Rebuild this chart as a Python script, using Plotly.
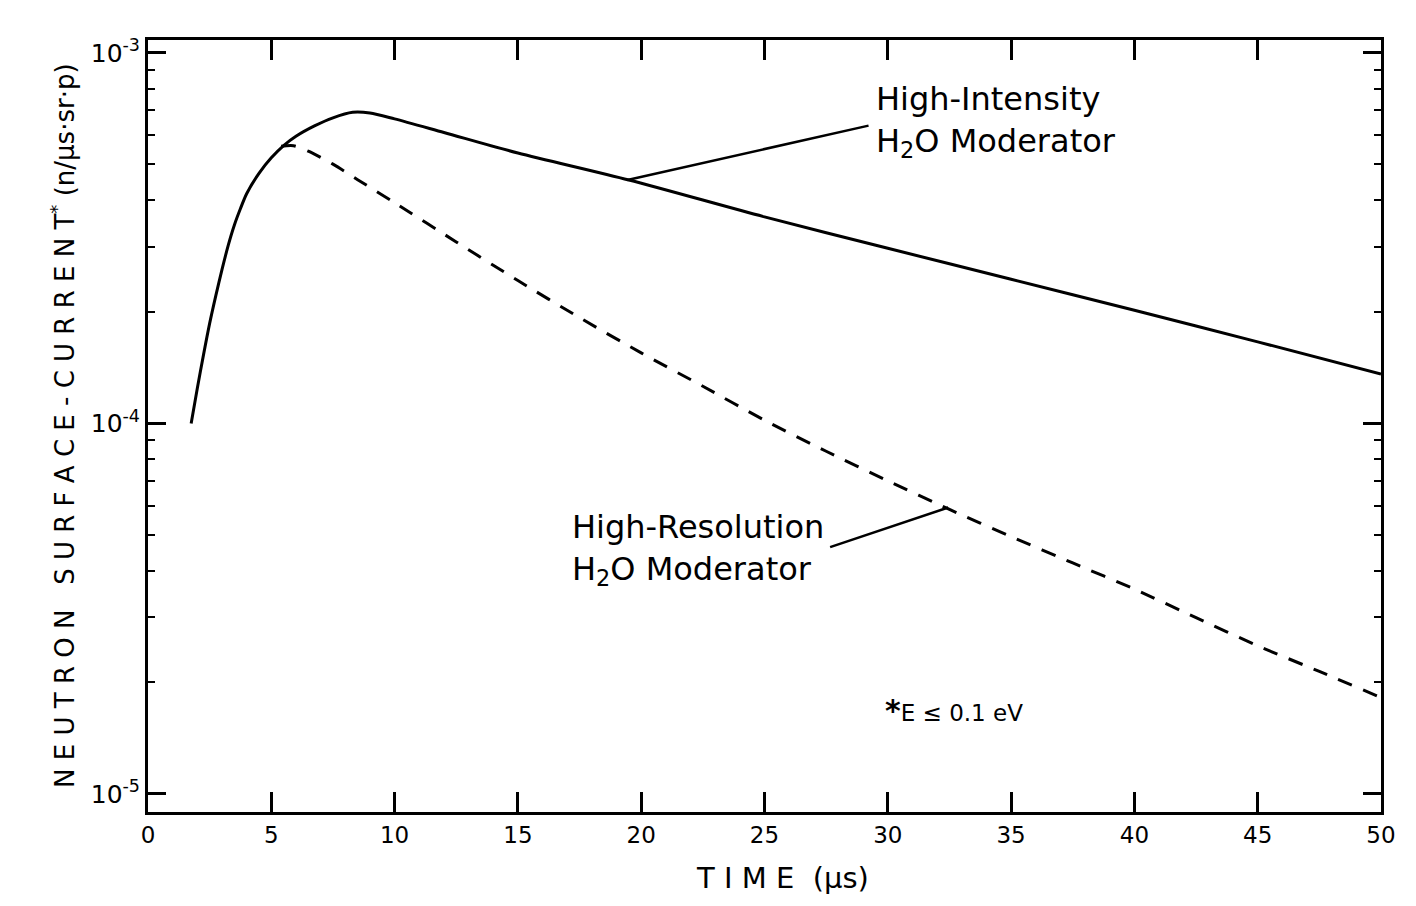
import numpy as np
import plotly.graph_objects as go

# ---- data ----
t_intensity = [1.75, 2.0, 2.25, 2.5, 2.75, 3.0, 3.25, 3.5, 3.75, 4.0, 4.5, 5.0, 5.5, 6.0, 6.75,
               7.5, 8.3, 9.0, 10.0, 12.0, 15.0, 19.5, 25.0, 30.0, 35.0, 40.0, 45.0, 50.0]
j_intensity = [1.00e-4, 1.245e-4, 1.531e-4, 1.862e-4, 2.213e-4, 2.600e-4, 3.020e-4, 3.428e-4,
               3.802e-4, 4.169e-4, 4.732e-4, 5.212e-4, 5.623e-4, 5.957e-4, 6.353e-4, 6.683e-4,
               6.918e-4, 6.887e-4, 6.637e-4, 6.10e-4, 5.37e-4, 4.54e-4, 3.61e-4, 2.97e-4,
               2.45e-4, 2.02e-4, 1.66e-4, 1.36e-4]

t_resolution = [5.4, 5.9, 6.5, 7.5, 8.5, 10.0, 12.5, 15.0, 17.5, 20.0, 22.5, 25.0, 27.5, 30.0,
                32.5, 35.0, 37.5, 40.0, 42.5, 45.0, 47.5, 50.0]
j_resolution = [5.60e-4, 5.62e-4, 5.43e-4, 5.01e-4, 4.55e-4, 3.94e-4, 3.09e-4, 2.43e-4, 1.93e-4,
                1.55e-4, 1.26e-4, 1.02e-4, 8.41e-5, 7.00e-5, 5.86e-5, 4.95e-5, 4.20e-5, 3.57e-5,
                2.99e-5, 2.51e-5, 2.14e-5, 1.82e-5]

x_ticks = [0, 5, 10, 15, 20, 25, 30, 35, 40, 45, 50]
y_ticks = [1e-5, 1e-4, 1e-3]
y_ticktext = ["10<sup>-5</sup>", "10<sup>-4</sup>", "10<sup>-3</sup>"]

label_intensity = "High-Intensity<br>H<sub>2</sub>O Moderator"
label_resolution = "High-Resolution<br>H<sub>2</sub>O Moderator"
note_text = "<span style='font-size:30px'><b>*</b></span>E ≤ 0.1 eV"
y_title = "N E U T R O N   S U R F A C E - C U R R E N T<sup>*</sup> (n/μs·sr·p)"
x_title = "T I M E  (μs)"

# leader lines: (point on curve, point at label)
lead_int = (19.44, 4.54e-4, 29.28, 6.38e-4)
lead_res = (32.45, 5.93e-5, 27.6, 4.62e-5)

FONT = "DejaVu Sans"

fig = go.Figure()
fig.add_trace(go.Scatter(x=t_intensity, y=j_intensity, mode="lines",
                         line=dict(color="black", width=3, shape="spline", smoothing=0.8),
                         name="High-Intensity H2O Moderator", showlegend=False))
fig.add_trace(go.Scatter(x=t_resolution, y=j_resolution, mode="lines",
                         line=dict(color="black", width=3, dash="15px,12px", shape="spline", smoothing=0.8),
                         name="High-Resolution H2O Moderator", showlegend=False))

ann = []
for (x0, y0, x1, y1) in (lead_int, lead_res):
    ann.append(dict(x=x0, y=np.log10(y0), ax=x1, ay=np.log10(y1), xref="x", yref="y",
                    axref="x", ayref="y", text="", showarrow=True, arrowhead=0,
                    arrowwidth=2.5, arrowcolor="black"))

ann.append(dict(x=29.45, y=np.log10(6.55e-4), xref="x", yref="y", text=label_intensity,
                showarrow=False, xanchor="left", yanchor="middle", align="left",
                font=dict(family=FONT, size=32, color="black")))
ann.append(dict(x=27.5, y=np.log10(4.56e-5), xref="x", yref="y", text=label_resolution,
                showarrow=False, xanchor="right", yanchor="middle", align="left",
                font=dict(family=FONT, size=32, color="black")))
ann.append(dict(x=29.8, y=np.log10(1.68e-5), xref="x", yref="y", text=note_text,
                showarrow=False, xanchor="left", yanchor="middle",
                font=dict(family=FONT, size=23, color="black")))
ann.append(dict(x=-0.069, y=0.5, xref="paper", yref="paper", text=y_title, textangle=-90,
                showarrow=False, xanchor="center", yanchor="middle",
                font=dict(family=FONT, size=26, color="black")))
ann.append(dict(x=0.515, y=-0.11, xref="paper", yref="paper", text=x_title,
                showarrow=False, xanchor="center", yanchor="bottom",
                font=dict(family=FONT, size=29, color="black")))

fig.update_layout(
    width=1400, height=890,
    margin=dict(l=140, r=15, t=32, b=86),
    paper_bgcolor="white", plot_bgcolor="white",
    font=dict(family=FONT, color="black"),
    annotations=ann,
    showlegend=False,
)
fig.update_xaxes(range=[0, 50], tickmode="array", tickvals=x_ticks,
                 ticks="inside", ticklen=20, tickwidth=3, tickcolor="black",
                 showline=True, linewidth=3, linecolor="black", mirror="ticks",
                 showgrid=False, zeroline=False,
                 tickfont=dict(family=FONT, size=23, color="black"))
fig.update_yaxes(type="log", range=[-5.049, -2.965], tickmode="array",
                 tickvals=y_ticks, ticktext=y_ticktext,
                 ticks="inside", ticklen=18, tickwidth=3, tickcolor="black",
                 minor=dict(ticks="inside", ticklen=7, tickwidth=2, tickcolor="black",
                            tickmode="array",
                            tickvals=[m * 10.0 ** e for e in (-5, -4) for m in range(2, 10)]),
                 showline=True, linewidth=3, linecolor="black", mirror="ticks",
                 showgrid=False, zeroline=False,
                 tickfont=dict(family=FONT, size=25, color="black"))

fig.write_html("out.html")
